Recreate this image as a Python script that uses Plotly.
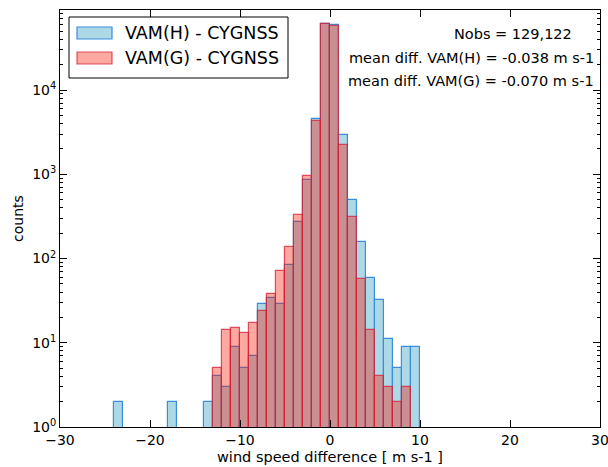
import plotly.graph_objects as go

# ---- data (bin width 1 m/s, left edges) ----
bin_left = [-24, -23, -22, -21, -20, -19, -18, -17, -16, -15, -14, -13, -12, -11, -10,
            -9, -8, -7, -6, -5, -4, -3, -2, -1, 0, 1, 2, 3, 4, 5, 6, 7, 8, 9]
counts_h = [2, None, None, None, None, None, 2, None, None, None, 2, 4, 3, 9, 5,
            7, 29, 34, 29, 83, 272, 850, 4500, 60000, 58500, 2890, 493, 158, 58, 32, 11, 5, 9, 9]
counts_g = [None, None, None, None, None, None, None, None, None, None, None, 5, 14, 15, 13,
            17, 24, 38, 72, 136, 327, 950, 4250, 60500, 58000, 2215, 312, 57, 14, 4, 3, 2, 3, None]
series_names = ["VAM(H) - CYGNSS", "VAM(G) - CYGNSS"]
stats_lines = ["Nobs = 129,122",
               "mean diff. VAM(H) = -0.038 m s-1",
               "mean diff. VAM(G) = -0.070 m s-1"]
x_ticks = [-30, -20, -10, 0, 10, 20, 30]
y_ticks = [1, 10, 100, 1000, 10000]
y_ticktext = ["10<sup>0</sup>", "10<sup>1</sup>", "10<sup>2</sup>", "10<sup>3</sup>", "10<sup>4</sup>"]

centers = [b + 0.5 for b in bin_left]

BLUE_FILL = "#ADD8E6"
BLUE_EDGE = "#3A8EDC"
RED_FILL = "rgba(250,20,0,0.37)"
RED_EDGE = "rgba(215,30,50,0.75)"
FONT = "DejaVu Sans"

fig = go.Figure()
fig.add_trace(go.Bar(x=centers, y=counts_h, width=1, name=series_names[0],
                     marker=dict(color=BLUE_FILL, line=dict(color=BLUE_EDGE, width=1.2)),
                     showlegend=False))
fig.add_trace(go.Bar(x=centers, y=counts_g, width=1, name=series_names[1],
                     marker=dict(color=RED_FILL, line=dict(color=RED_EDGE, width=1.2)),
                     showlegend=False))

W, H = 608, 467
ml, mr, mt, mb = 60, 8, 10, 40
pw, ph = W - ml - mr, H - mt - mb

def px(xp):
    return (xp - ml) / pw

def py(yp):
    return (H - mb - yp) / ph

# manual legend (matplotlib-style box with wide patches)
fig.add_shape(type="rect", xref="paper", yref="paper",
              x0=px(69), x1=px(288), y0=py(78), y1=py(17),
              line=dict(color="black", width=1), fillcolor="white", layer="above")
fig.add_shape(type="rect", xref="paper", yref="paper",
              x0=px(77), x1=px(112), y0=py(39), y1=py(27),
              line=dict(color=BLUE_EDGE, width=1.2), fillcolor=BLUE_FILL, layer="above")
fig.add_shape(type="rect", xref="paper", yref="paper",
              x0=px(77), x1=px(112), y0=py(64), y1=py(52),
              line=dict(color=RED_EDGE, width=1.2), fillcolor=RED_FILL, layer="above")
for name, yc in zip(series_names, [33, 58]):
    fig.add_annotation(xref="paper", yref="paper", x=px(123), y=py(yc), text=name,
                       showarrow=False, xanchor="left", yanchor="middle",
                       font=dict(family=FONT, size=17.5, color="black"))

# statistics text
fig.add_annotation(xref="paper", yref="paper", x=px(574), y=py(34), text=stats_lines[0],
                   showarrow=False, xanchor="right", yanchor="middle",
                   font=dict(family=FONT, size=14.5, color="black"))
for txt, yc in zip(stats_lines[1:], [58, 81]):
    fig.add_annotation(xref="paper", yref="paper", x=px(596), y=py(yc), text=txt,
                       showarrow=False, xanchor="right", yanchor="middle",
                       font=dict(family=FONT, size=14.5, color="black"))

axis_common = dict(showline=True, linecolor="black", linewidth=1, mirror="ticks",
                   ticks="inside", tickcolor="black", showgrid=False, zeroline=False,
                   tickfont=dict(family=FONT, size=14, color="black"))

fig.update_layout(
    width=W, height=H,
    margin=dict(l=ml, r=mr, t=mt, b=mb, autoexpand=False),
    paper_bgcolor="white", plot_bgcolor="white",
    barmode="overlay", bargap=0,
    font=dict(family=FONT, color="black"),
    xaxis=dict(range=[-30, 30], tickvals=x_ticks, ticklen=7, ticklabeloverflow="allow",
               title=dict(text="wind speed difference [ m s-1 ]", standoff=5,
                          font=dict(family=FONT, size=14.5)),
               **axis_common),
    yaxis=dict(type="log", range=[0, 4.95], tickvals=y_ticks, ticktext=y_ticktext, ticklen=7,
               ticklabeloverflow="allow",
               minor=dict(ticks="inside", ticklen=3, dtick="D1", tickcolor="black", showgrid=False),
               title=dict(text="counts", standoff=5, font=dict(family=FONT, size=14)),
               **axis_common),
)

fig.write_html("out.html")
